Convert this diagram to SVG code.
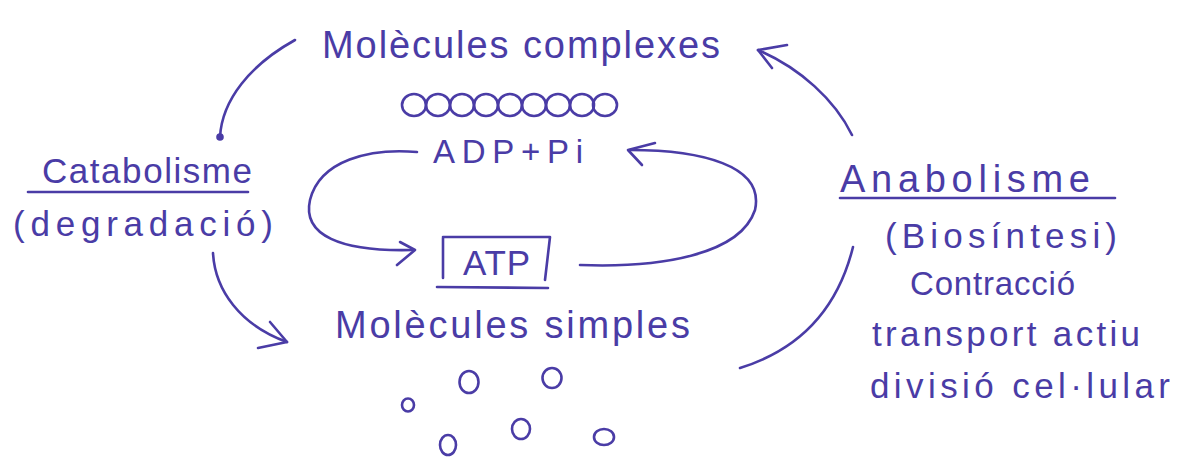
<svg xmlns="http://www.w3.org/2000/svg" width="1184" height="473" viewBox="0 0 1184 473">
  <style>
    .ink { fill: none; stroke: #4a3ca6; stroke-width: 2.6; stroke-linecap: round; stroke-linejoin: round; }
    .txt { fill: #4a3ca6; font-family: "Liberation Sans", Arial, sans-serif; }
    .big { font-size: 38px; }
    .mid { font-size: 35px; }
    .sml { font-size: 33px; }
  </style>
  <rect width="1184" height="473" fill="#ffffff"/>

  <!-- Complex molecules: label and a chain of joined units -->
  <g id="complex-molecules">
    <text class="txt big" x="322" y="58" textLength="398" lengthAdjust="spacing">Molècules complexes</text>
    <g class="ink">
      <ellipse cx="414" cy="105" rx="12" ry="11"/>
      <ellipse cx="438" cy="105" rx="12" ry="11"/>
      <ellipse cx="462" cy="105" rx="12" ry="11"/>
      <ellipse cx="486" cy="105" rx="12" ry="11"/>
      <ellipse cx="510" cy="105" rx="12" ry="11"/>
      <ellipse cx="534" cy="105" rx="12" ry="11"/>
      <ellipse cx="558" cy="105" rx="12" ry="11"/>
      <ellipse cx="582" cy="105" rx="12" ry="11"/>
      <ellipse cx="605" cy="105" rx="12" ry="11"/>
    </g>
  </g>

  <!-- ADP + Pi -->
  <g id="adp">
    <text class="txt sml" x="433" y="163" textLength="150" lengthAdjust="spacing">ADP+Pi</text>
  </g>

  <!-- ATP in its box -->
  <g id="atp">
    <text class="txt mid" x="463" y="275" textLength="67" lengthAdjust="spacing">ATP</text>
    <path class="ink" d="M443,238 L443,278 M443,237 L550,237 L545,280 M437,287 L548,288"/>
  </g>

  <!-- Simple molecules: label and loose units -->
  <g id="simple-molecules">
    <text class="txt big" x="335" y="338" textLength="355" lengthAdjust="spacing">Molècules simples</text>
    <g class="ink">
      <ellipse cx="408" cy="405" rx="6" ry="6.5"/>
      <ellipse cx="469" cy="382" rx="9.5" ry="11"/>
      <ellipse cx="552" cy="378" rx="9.5" ry="10"/>
      <ellipse cx="448" cy="445" rx="8" ry="10"/>
      <ellipse cx="521" cy="429" rx="9" ry="10"/>
      <ellipse cx="604" cy="437" rx="10" ry="8"/>
    </g>
  </g>

  <!-- Catabolism -->
  <g id="catabolisme">
    <text class="txt mid" x="42" y="183" textLength="210" lengthAdjust="spacing">Catabolisme</text>
    <path class="ink" d="M28,192 L248,192"/>
    <text class="txt mid" x="13" y="236" textLength="260" lengthAdjust="spacing">(degradació)</text>
  </g>

  <!-- Anabolism and the work it supplies -->
  <g id="anabolisme">
    <text class="txt big" x="840" y="192" textLength="250" lengthAdjust="spacing">Anabolisme</text>
    <path class="ink" d="M840,198 L1115,198"/>
    <text class="txt mid" x="885" y="248" textLength="232" lengthAdjust="spacing">(Biosíntesi)</text>
  </g>

  <g id="energy-uses">
    <text class="txt sml" x="910" y="295" textLength="165" lengthAdjust="spacing">Contracció</text>
    <text class="txt mid" x="872" y="346" textLength="268" lengthAdjust="spacing">transport actiu</text>
    <text class="txt mid" x="870" y="398" textLength="300" lengthAdjust="spacing">divisió cel·lular</text>
  </g>

  <!-- Connectors -->
  <g id="connectors" class="ink">
    <!-- complex molecules broken down -->
    <path d="M220,137 C222,100 250,65 295,40"/>
    <circle cx="220" cy="137" r="2.5" fill="#4a3ca6"/>
    <path d="M213,253 C215,290 240,325 287,342"/>
    <path d="M270,322 L287,342 L258,348"/>
    <!-- ADP + Pi charged to ATP -->
    <path d="M417,152 C370,148 320,160 310,200 C302,235 340,252 413,250"/>
    <path d="M400,242 L415,250 L397,265"/>
    <!-- ATP spent back to ADP + Pi -->
    <path d="M580,265 C660,268 740,255 755,210 C765,165 700,150 630,150"/>
    <path d="M655,143 L628,150 L642,165"/>
    <!-- simple molecules built up -->
    <path d="M853,247 Q830,340 740,368"/>
    <path d="M852,135 C835,100 800,68 758,50"/>
    <path d="M787,45 L758,50 L772,68"/>
  </g>
</svg>
